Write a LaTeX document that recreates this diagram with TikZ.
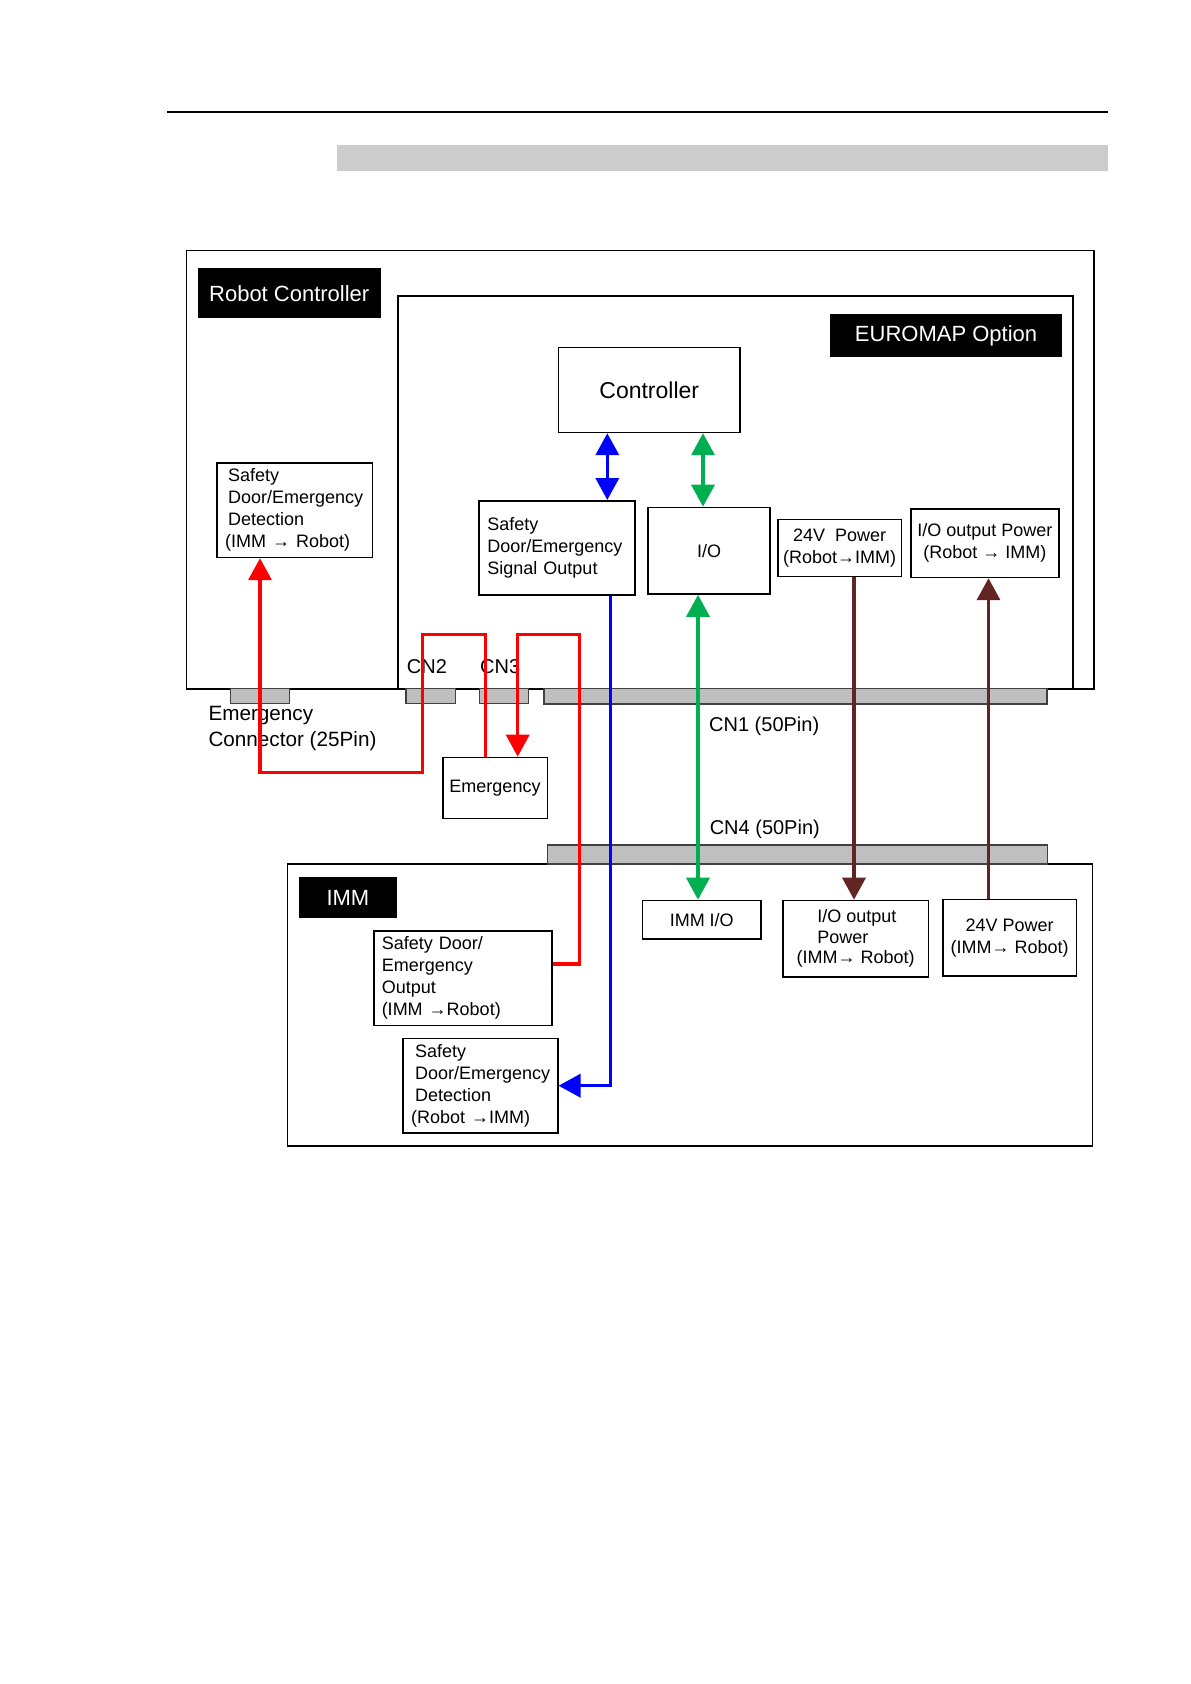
\documentclass[tikz,border=0pt]{standalone}
\usepackage{fontspec}
\setmainfont{Liberation Sans}
\usetikzlibrary{arrows.meta}

\definecolor{wirered}{HTML}{FF0000}
\definecolor{wireblue}{HTML}{0000FF}
\definecolor{wiregreen}{HTML}{00B050}
\definecolor{wirebrown}{HTML}{632523}

\begin{document}
\begin{tikzpicture}[
		x=1pt, y=-1pt,
		every node/.style={font=\fontsize{18}{22}\selectfont, inner sep=0pt},
		box/.style={draw, line width=1.5pt, anchor=north west},
		blackbox/.style={box, fill=black, text=white, font=\fontsize{22}{26}\selectfont},
		plug/.style={draw=black!75, fill=black!25, line width=1.5pt},
		wire/.style={line width=3.5pt},
		onehead/.style={-{Triangle[width=23pt,length=22pt]}},
		twohead/.style={{Triangle[width=23pt,length=22pt]}-{Triangle[width=23pt,length=22pt]}}
	]
	\useasboundingbox (0,0) rectangle (1191,1684);

	% page header
	\draw[line width=2pt] (167,111.7) -- (1108,111.7);
	\fill[black!20] (337,145) rectangle (1108,170.7);

	% frames
	\draw[line width=1.5pt] (186.7,250.7) rectangle (1094,689);
	\draw[line width=2pt] (398,295.5) rectangle (1072.5,688.5);
	\draw[line width=1.5pt] (287.3,864) rectangle (1092.7,1146);

	\node[blackbox, minimum width=181, minimum height=48.4] (rc label) at (198,268.3) {Robot Controller};
	\node[blackbox, minimum width=230, minimum height=41] (euromap label) at (830.3,314.3) {EUROMAP Option};
	\node[blackbox, minimum width=96.3, minimum height=39.4] (imm label) at (299,877.3) {IMM};

	% robot controller side
	\node[box, minimum width=181.6, minimum height=85, font=\fontsize{23}{27}\selectfont] (controller) at (557.7,346.7) {Controller};
	\node[box, minimum width=156, minimum height=94.3, align=left, text width=138.6, inner xsep=8.7] (signal out) at (478,500) {Safety\\Door/Emergency\\Signal Output};
	\node[box, minimum width=122, minimum height=86.6] (io) at (647.3,506.7) {I/O};
	\node[box, minimum width=123.7, minimum height=57, align=center] (power out) at (777,518.7) {24V\ \ Power\\(Robot→IMM)};
	\node[box, minimum width=148.3, minimum height=68.4, align=center] (io power in) at (910,508.3) {I/O output Power\\(Robot → IMM)};
	\node[box, minimum width=155.7, minimum height=94.4, align=left, text width=133.1, inner xsep=11.3] (rc detect) at (216,462.3) {Safety\\Door/Emergency\\Detection\\\hspace*{-3pt}(IMM → Robot)};

	% connectors
	\draw[plug] (230.7,688.3) rectangle (289.3,703.3);
	\draw[plug] (406,688.3) rectangle (455.3,703.3);
	\draw[plug] (479.3,688.3) rectangle (528.3,703.3);
	\draw[plug] (544,688.3) rectangle (1047,704);
	\draw[plug] (547.7,845) rectangle (1047.5,864);

	\node[anchor=west, align=left, font=\fontsize{20.7}{25.5}\selectfont] (emg conn) at (208.3,728.3) {Emergency\\Connector (25Pin)};
	\node[anchor=west, font=\fontsize{20}{24}\selectfont] (cn2) at (406.7,667) {CN2};
	\node[anchor=west, font=\fontsize{20}{24}\selectfont] (cn3) at (480,667) {CN3};
	\node[anchor=west, font=\fontsize{20}{24}\selectfont] (cn1) at (709,726) {CN1 (50Pin)};
	\node[anchor=west, font=\fontsize{20}{24}\selectfont] (cn4) at (709.6,829.3) {CN4 (50Pin)};

	\node[box, minimum width=104.5, minimum height=61] (emergency) at (442,756.7) {Emergency};

	% IMM side
	\node[box, minimum width=178, minimum height=94.4, align=left, text width=162.6, inner xsep=7.7] (imm out) at (373.3,930.3) {Safety Door/\\Emergency\\Output\\(IMM →Robot)};
	\node[box, minimum width=154.7, minimum height=94.3, align=left, text width=130.7, inner xsep=12] (imm detect) at (402.3,1037.7) {Safety\\Door/Emergency\\Detection\\\hspace*{-4pt}(Robot →IMM)};
	\node[box, minimum width=118.6, minimum height=38.6] (imm io) at (641.7,899.7) {IMM I/O};
	\node[box, minimum width=145.7, minimum height=76.6, align=left, font=\fontsize{18}{20.5}\selectfont] (imm io power) at (782,899.7) {\hspace*{20.7pt}I/O output\\\hspace*{20.7pt}Power\\(IMM→ Robot)};
	\node[box, minimum width=133.7, minimum height=76.3, align=center] (imm power) at (942,898.7) {24V Power\\(IMM→ Robot)};

	% signal lines
	\draw[wire, wireblue, twohead] (controller.south -| 607.3,0) -- (signal out.north -| 607.3,0);
	\draw[wire, wireblue, onehead] (signal out.south -| 610.5,0) |- (imm detect.east |- 0,1085.7);

	\draw[wire, wiregreen, twohead] (controller.south -| 703,0) -- (io.north -| 703,0);
	\draw[wire, wiregreen, twohead] (io.south -| 698,0) -- (imm io.north -| 698,0);

	\draw[wire, wirebrown, onehead] (power out.south -| 854,0) -- (imm io power.north -| 854,0);
	\draw[wire, wirebrown, onehead] (imm power.north -| 988.5,0) -- (io power in.south -| 988.5,0);

	\draw[wire, wirered, onehead] (imm out.east |- 0,964) -| (579.4,634.7) -| (emergency.north -| 517.7,0);
	\draw[wire, wirered, onehead] (emergency.north -| 485.7,0) |- (422.3,634.7) |- (260,772.3) -- (rc detect.south -| 260,0);
\end{tikzpicture}
\end{document}
